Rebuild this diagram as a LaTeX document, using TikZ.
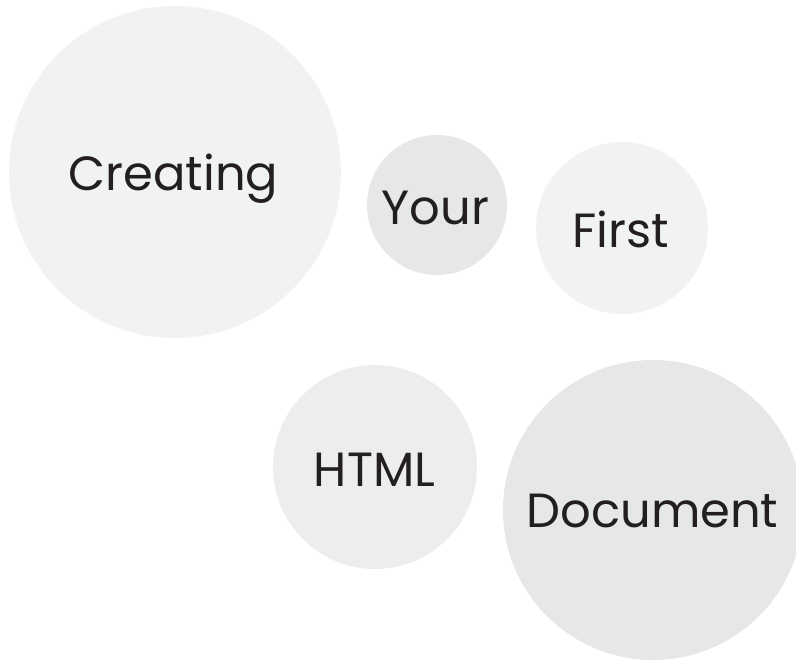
\documentclass[tikz,border=0pt]{standalone}
\usepackage{fontspec}
\setmainfont{Poppins}
\definecolor{inktext}{HTML}{231F20}
\definecolor{palegray}{HTML}{F1F2F3}
\definecolor{midgray}{HTML}{E6E7E8}
\definecolor{softgray}{HTML}{EDEDEE}
\tikzstyle{bubble}=[circle, draw=none, inner sep=0pt, anchor=center]
\tikzstyle{word}=[text=inktext, inner sep=0pt, anchor=base, font=\fontsize{48}{58}\selectfont]
\begin{document}
\begin{tikzpicture}[x=1pt, y=-1pt]
	\useasboundingbox (0,0) rectangle (796,661);
	\clip (0,0) rectangle (796,661);

	\node[bubble, fill=palegray, minimum size=332pt](creating) at (175,172){};
	\node[bubble, fill=midgray, minimum size=140pt](your) at (437,205){};
	\node[bubble, fill=palegray, minimum size=172pt](first) at (622,228){};
	\node[bubble, fill=softgray, minimum size=204pt](html) at (375,467){};
	\node[bubble, fill=midgray, minimum size=300pt](document) at (653,510){};

	\node[word](creatingtext) at (173.5,190) {Creating};
	\node[word](yourtext) at (435.5,224) {Your};
	\node[word](firsttext) at (620.5,247) {First};
	\node[word](htmltext) at (374.5,486) {HTML};
	\node[word](documenttext) at (652.5,527) {Document};

\end{tikzpicture}
\end{document}
